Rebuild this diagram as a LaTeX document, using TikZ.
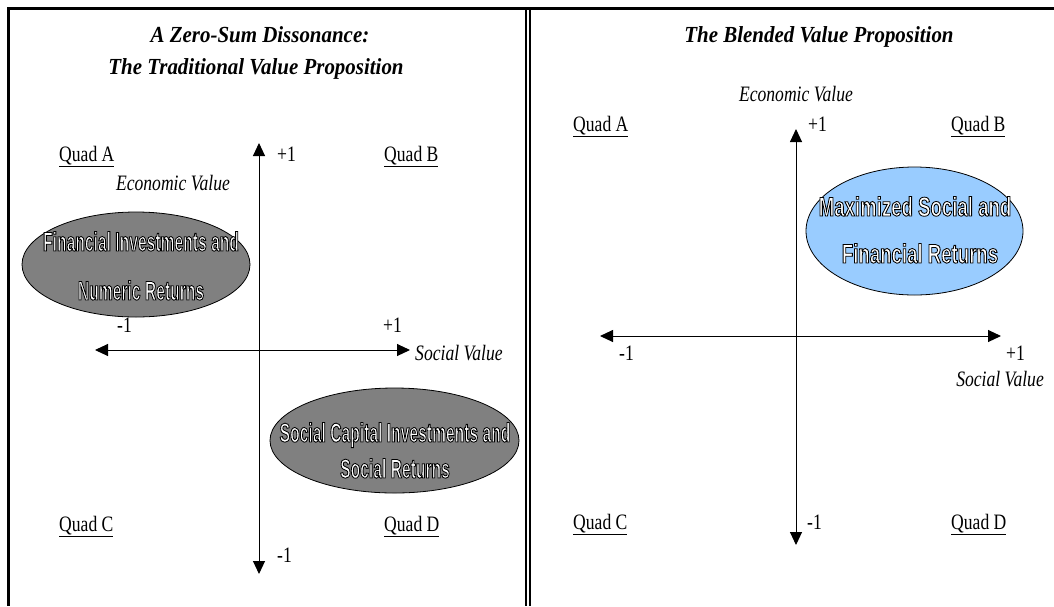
\documentclass[tikz,border=0pt]{standalone}
\usepackage{fontspec}
\setmainfont{Liberation Serif}[FakeStretch=0.8]
\newfontfamily\titlefont{Liberation Serif}[FakeStretch=0.91]
\newfontfamily\bubblefontL{Liberation Sans}[FakeStretch=0.58]
\newfontfamily\bubblefontR{Liberation Sans}[FakeStretch=0.69]
\usetikzlibrary{arrows.meta,shapes.geometric}

\definecolor{bubblegray}{RGB}{128,128,128}
\definecolor{bubbleblue}{RGB}{153,204,255}

% white letters with a thin black rim (fill-then-stroke text rendering)
\newcommand\outlinetext[1]{{\color{white}%
  \special{pdf:literal direct 2 Tr 0.85 w 0 0 0 RG}#1%
  \special{pdf:literal direct 0 Tr 0.4 w}}}

\tikzset{
  lbl/.style={inner sep=0pt, font=\fontsize{22}{26}\selectfont},
  ital/.style={inner sep=0pt, font=\fontsize{22}{26}\selectfont\itshape},
  ttl/.style={inner sep=0pt, font=\titlefont\fontsize{23}{27}\selectfont\bfseries\itshape},
  axis/.style={line width=1pt, {Triangle[length=13pt,width=12pt]}-{Triangle[length=13pt,width=12pt]}},
  bubble/.style={ellipse, draw=black, line width=0.8pt, inner sep=0pt},
  btxtL/.style={inner sep=0pt, font=\bubblefontL\fontsize{27}{31}\selectfont\bfseries},
  btxtR/.style={inner sep=0pt, font=\bubblefontR\fontsize{27}{31}\selectfont\bfseries},
  frame/.style={line width=3pt}
}

\begin{document}
\begin{tikzpicture}[x=1pt,y=-1pt]
\useasboundingbox (0,0) rectangle (1054,606);
\fill[white] (0,0) rectangle (1054,606);

% panel frames
\draw[frame, line width=3.5pt] (7,8.5) -- (1054,8.5);
\draw[frame] (8.5,7) -- (8.5,606);
\draw[line width=2pt] (526,7) -- (526,606);
\draw[line width=2.2pt] (529.8,7) -- (529.8,606);

% ---------- left panel: traditional value proposition ----------
\node[ttl, anchor=base] (ltitleA) at (260,42) {A Zero-Sum Dissonance:};
\node[ttl, anchor=base] (ltitleB) at (256,74) {The Traditional Value Proposition};

\node[bubble, fill=bubblegray, minimum width=228pt, minimum height=105pt] (finE) at (136,264.5) {};
\node[bubble, fill=bubblegray, minimum width=249pt, minimum height=105pt] (socE) at (394.5,440.5) {};

\coordinate (lvTop) at (259,143);
\coordinate (lvBot) at (259,574);
\coordinate (lhL) at (95,350);
\coordinate (lhR) at (410,350);
\draw[axis] (lvBot) -- (lvTop);
\draw[axis] (lhL) -- (lhR);

\node[lbl, anchor=base west] (lqa) at (59,161) {\underline{Quad A}};
\node[lbl, anchor=base west] (lqb) at (384,161) {\underline{Quad B}};
\node[lbl, anchor=base west] (lqc) at (59,531) {\underline{Quad C}};
\node[lbl, anchor=base west] (lqd) at (384,531) {\underline{Quad D}};

\node[lbl, anchor=base west] (lvp) at (277,161) {+1};
\node[lbl, anchor=base west] (lvm) at (277,562) {-1};
\node[lbl, anchor=base west] (lhm) at (117,332) {-1};
\node[lbl, anchor=base west] (lhp) at (383,332) {+1};
\node[ital, anchor=base] (lecon) at (173,190) {Economic Value};
\node[ital, anchor=base west] (lsoc) at (415,360) {Social Value};

\node[btxtL, anchor=base] (finT1) at (141,251) {\outlinetext{Financial Investments and}};
\node[btxtL, anchor=base] (finT2) at (141,300) {\outlinetext{Numeric Returns}};
\node[btxtL, anchor=base] (socT1) at (395,442) {\outlinetext{Social Capital Investments and}};
\node[btxtL, anchor=base] (socT2) at (395,478) {\outlinetext{Social Returns}};

% ---------- right panel: blended value proposition ----------
\node[ttl, anchor=base] (rtitle) at (819,42) {The Blended Value Proposition};

\node[bubble, fill=bubbleblue, minimum width=217pt, minimum height=128pt] (maxE) at (914.5,231) {};

\coordinate (rvTop) at (796,129);
\coordinate (rvBot) at (796,545);
\coordinate (rhL) at (600,336);
\coordinate (rhR) at (1001,336);
\draw[axis] (rvBot) -- (rvTop);
\draw[axis] (rhL) -- (rhR);

\node[ital, anchor=base] (recon) at (796,101) {Economic Value};
\node[lbl, anchor=base west] (rqa) at (573,131) {\underline{Quad A}};
\node[lbl, anchor=base west] (rqb) at (951,131) {\underline{Quad B}};
\node[lbl, anchor=base west] (rqc) at (573,529) {\underline{Quad C}};
\node[lbl, anchor=base west] (rqd) at (951,529) {\underline{Quad D}};

\node[lbl, anchor=base west] (rvp) at (808,131) {+1};
\node[lbl, anchor=base west] (rvm) at (807,529) {-1};
\node[lbl, anchor=base west] (rhm) at (619,360) {-1};
\node[lbl, anchor=base west] (rhp) at (1006,360) {+1};
\node[ital, anchor=base east] (rsoc) at (1044,386) {Social Value};

\node[btxtR, anchor=base] (maxT1) at (915,216) {\outlinetext{Maximized Social and}};
\node[btxtR, anchor=base] (maxT2) at (920,263) {\outlinetext{Financial Returns}};
\end{tikzpicture}
\end{document}
